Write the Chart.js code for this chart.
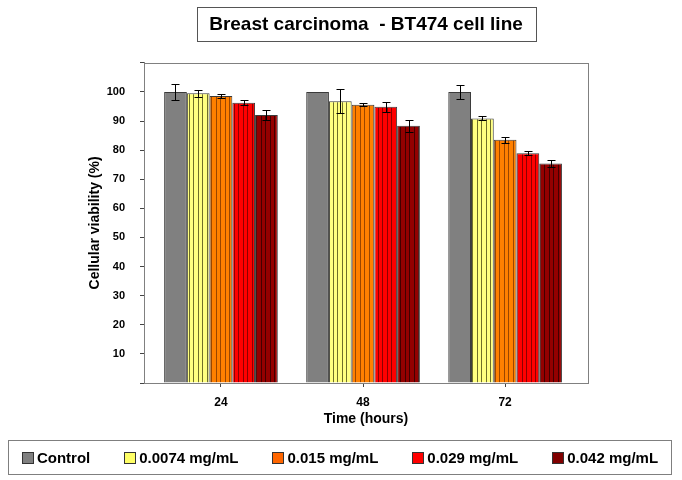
<!DOCTYPE html>
<html>
<head>
<meta charset="utf-8">
<script src="https://cdn.jsdelivr.net/npm/chart.js@4/dist/chart.umd.min.js"></script>
<style>
  body { margin: 0; background: #fff; }
  #wrap { position: relative; width: 682px; height: 480px; }
  #legend {
    position: absolute; left: 8px; top: 440px; width: 664px; height: 35px;
    box-sizing: border-box; border: 1px solid #7f7f7f;
    display: flex; align-items: center; justify-content: center; gap: 34px;
    font: bold 15px "Liberation Sans", Arial, sans-serif; color: #000;
  }
  #legend .item { display: flex; align-items: center; white-space: nowrap; }
  #legend .box { width: 10px; height: 10px; border: 1px solid #333; margin-right: 3px; }
</style>
</head>
<body>
<div id="wrap">
  <canvas id="chart" width="682" height="480"></canvas>
  <div id="legend"></div>
</div>
<script>
const hours = [24, 48, 72];
const seriesNames = ['Control', '0.0074 mg/mL', '0.015 mg/mL', '0.029 mg/mL', '0.042 mg/mL'];

const controlVals = [100, 100, 100];
const controlErr = [2.8, 0, 2.3];
const dose0074 = [99.5, 96.8, 90.9];
const dose0074Err = [1.2, 4.1, 0.7];
const dose015 = [98.6, 95.6, 83.6];
const dose015Err = [0.7, 0.5, 1.0];
const dose029 = [96.3, 94.9, 78.9];
const dose029Err = [0.9, 1.7, 0.7];
const dose042 = [92.1, 88.4, 75.4];
const dose042Err = [1.6, 2.1, 1.3];

const yTicks = [10, 20, 30, 40, 50, 60, 70, 80, 90, 100];

const font = '"Liberation Sans", Arial, sans-serif';

// vertical striped fill like the original plot
function stripes(base, line) {
    const c = document.createElement('canvas');
    c.width = 9;
    c.height = 4;
    const g = c.getContext('2d');
    g.fillStyle = base;
    g.fillRect(0, 0, 9, 4);
    g.fillStyle = line;
    g.fillRect(0, 0, 1, 4);
    g.fillRect(4, 0, 1, 4);
    return g.createPattern(c, 'repeat');
}

const fills = [
    '#808080',
    stripes('#ffff80', '#6e6e28'),
    stripes('#ff8000', '#9a4600'),
    stripes('#ff0000', '#8c0000'),
    stripes('#940000', '#420000')
];
const legendColors = ['#808080', '#ffff66', '#ff6600', '#ff0000', '#800000'];

const values = [controlVals, dose0074, dose015, dose029, dose042];
const errors = [controlErr, dose0074Err, dose015Err, dose029Err, dose042Err];

const datasets = seriesNames.map((name, s) => ({
    label: name,
    data: values[s].map((v, i) => ({ x: hours[i], y: v })),
    errors: errors[s],
    backgroundColor: fills[s],
    borderColor: '#3a3a3a',
    borderWidth: 1,
    legendColor: legendColors[s]
}));

const errorBars = {
    id: 'errorBars',
    afterDatasetsDraw(chart) {
        const ctx = chart.ctx;
        const y = chart.scales.y;
        ctx.save();
        ctx.strokeStyle = '#000';
        ctx.lineWidth = 1;
        chart.data.datasets.forEach((ds, di) => {
            const meta = chart.getDatasetMeta(di);
            meta.data.forEach((bar, i) => {
                const err = ds.errors[i];
                if (!err) return;
                const v = ds.data[i].y;
                const x = Math.round(bar.x) + 0.5;
                const top = Math.round(y.getPixelForValue(v + err)) + 0.5;
                const bot = Math.round(y.getPixelForValue(v - err)) + 0.5;
                ctx.beginPath();
                ctx.moveTo(x, top); ctx.lineTo(x, bot);
                ctx.moveTo(x - 4, top); ctx.lineTo(x + 4, top);
                ctx.moveTo(x - 4, bot); ctx.lineTo(x + 4, bot);
                ctx.stroke();
            });
        });
        ctx.restore();
    }
};

const frames = {
    id: 'frames',
    afterDraw(chart) {
        const ctx = chart.ctx;
        const a = chart.chartArea;
        ctx.save();
        ctx.strokeStyle = '#808080';
        ctx.lineWidth = 1;
        ctx.strokeRect(Math.round(a.left) + 0.5, Math.round(a.top) + 0.5,
            Math.round(a.right - a.left), Math.round(a.bottom - a.top));
        // box round the title
        const t = chart.titleBlock;
        ctx.font = 'bold 19px ' + font;
        const w = ctx.measureText(chart.options.plugins.title.text).width;
        const cx = (t.left + t.right) / 2;
        ctx.strokeStyle = '#555';
        ctx.strokeRect(Math.round(cx - w / 2 - 12) + 0.5, 7.5, Math.round(w + 25), 34);
        ctx.restore();
    }
};

const chart = new Chart(document.getElementById('chart'), {
    type: 'bar',
    data: { datasets: datasets },
    options: {
        responsive: false,
        animation: false,
        layout: { padding: { left: 83, right: 94, top: 0, bottom: 40 } },
        datasets: { bar: { categoryPercentage: 0.8, barPercentage: 1.0 } },
        plugins: {
            legend: { display: false },
            tooltip: { enabled: false },
            title: {
                display: true,
                text: 'Breast carcinoma  - BT474 cell line',
                fullSize: false,
                color: '#000',
                font: { family: font, size: 19, weight: 'bold' },
                padding: { top: 13, bottom: 27 }
            }
        },
        scales: {
            x: {
                type: 'linear',
                min: 11,
                max: 86,
                offset: false,
                afterBuildTicks: axis => { axis.ticks = hours.map(v => ({ value: v })); },
                afterFit: scale => { scale.height = 57; },
                grid: { drawOnChartArea: false, offset: false, tickLength: 4, color: '#444' },
                border: { color: '#808080' },
                ticks: {
                    color: '#000',
                    padding: 8,
                    font: { family: font, size: 12, weight: 'bold' },
                    callback: v => String(v)
                },
                title: {
                    display: true,
                    text: 'Time (hours)',
                    color: '#000',
                    font: { family: font, size: 14, weight: 'bold' },
                    padding: { top: 0, bottom: 12 }
                }
            },
            y: {
                min: 0,
                max: 110,
                afterFit: scale => { scale.width = 61; },
                afterBuildTicks: axis => {
                    const t = [];
                    for (let v = 0; v <= 110; v += 5) t.push({ value: v });
                    axis.ticks = t;
                },
                grid: { drawOnChartArea: false, tickLength: 4, color: '#444' },
                border: { color: '#808080' },
                ticks: {
                    color: '#000',
                    padding: 15,
                    font: { family: font, size: 11, weight: 'bold' },
                    callback: v => yTicks.includes(v) ? String(v) : ''
                },
                title: {
                    display: true,
                    text: 'Cellular viability (%)',
                    color: '#000',
                    font: { family: font, size: 14, weight: 'bold' },
                    padding: { top: 4, bottom: 0 }
                }
            }
        }
    },
    plugins: [errorBars, frames]
});

// legend built from the chart's datasets
document.getElementById('legend').innerHTML = chart.data.datasets.map(ds =>
    `<div class="item"><div class="box" style="background:${ds.legendColor}"></div>${ds.label}</div>`
).join('');
</script>
</body>
</html>
